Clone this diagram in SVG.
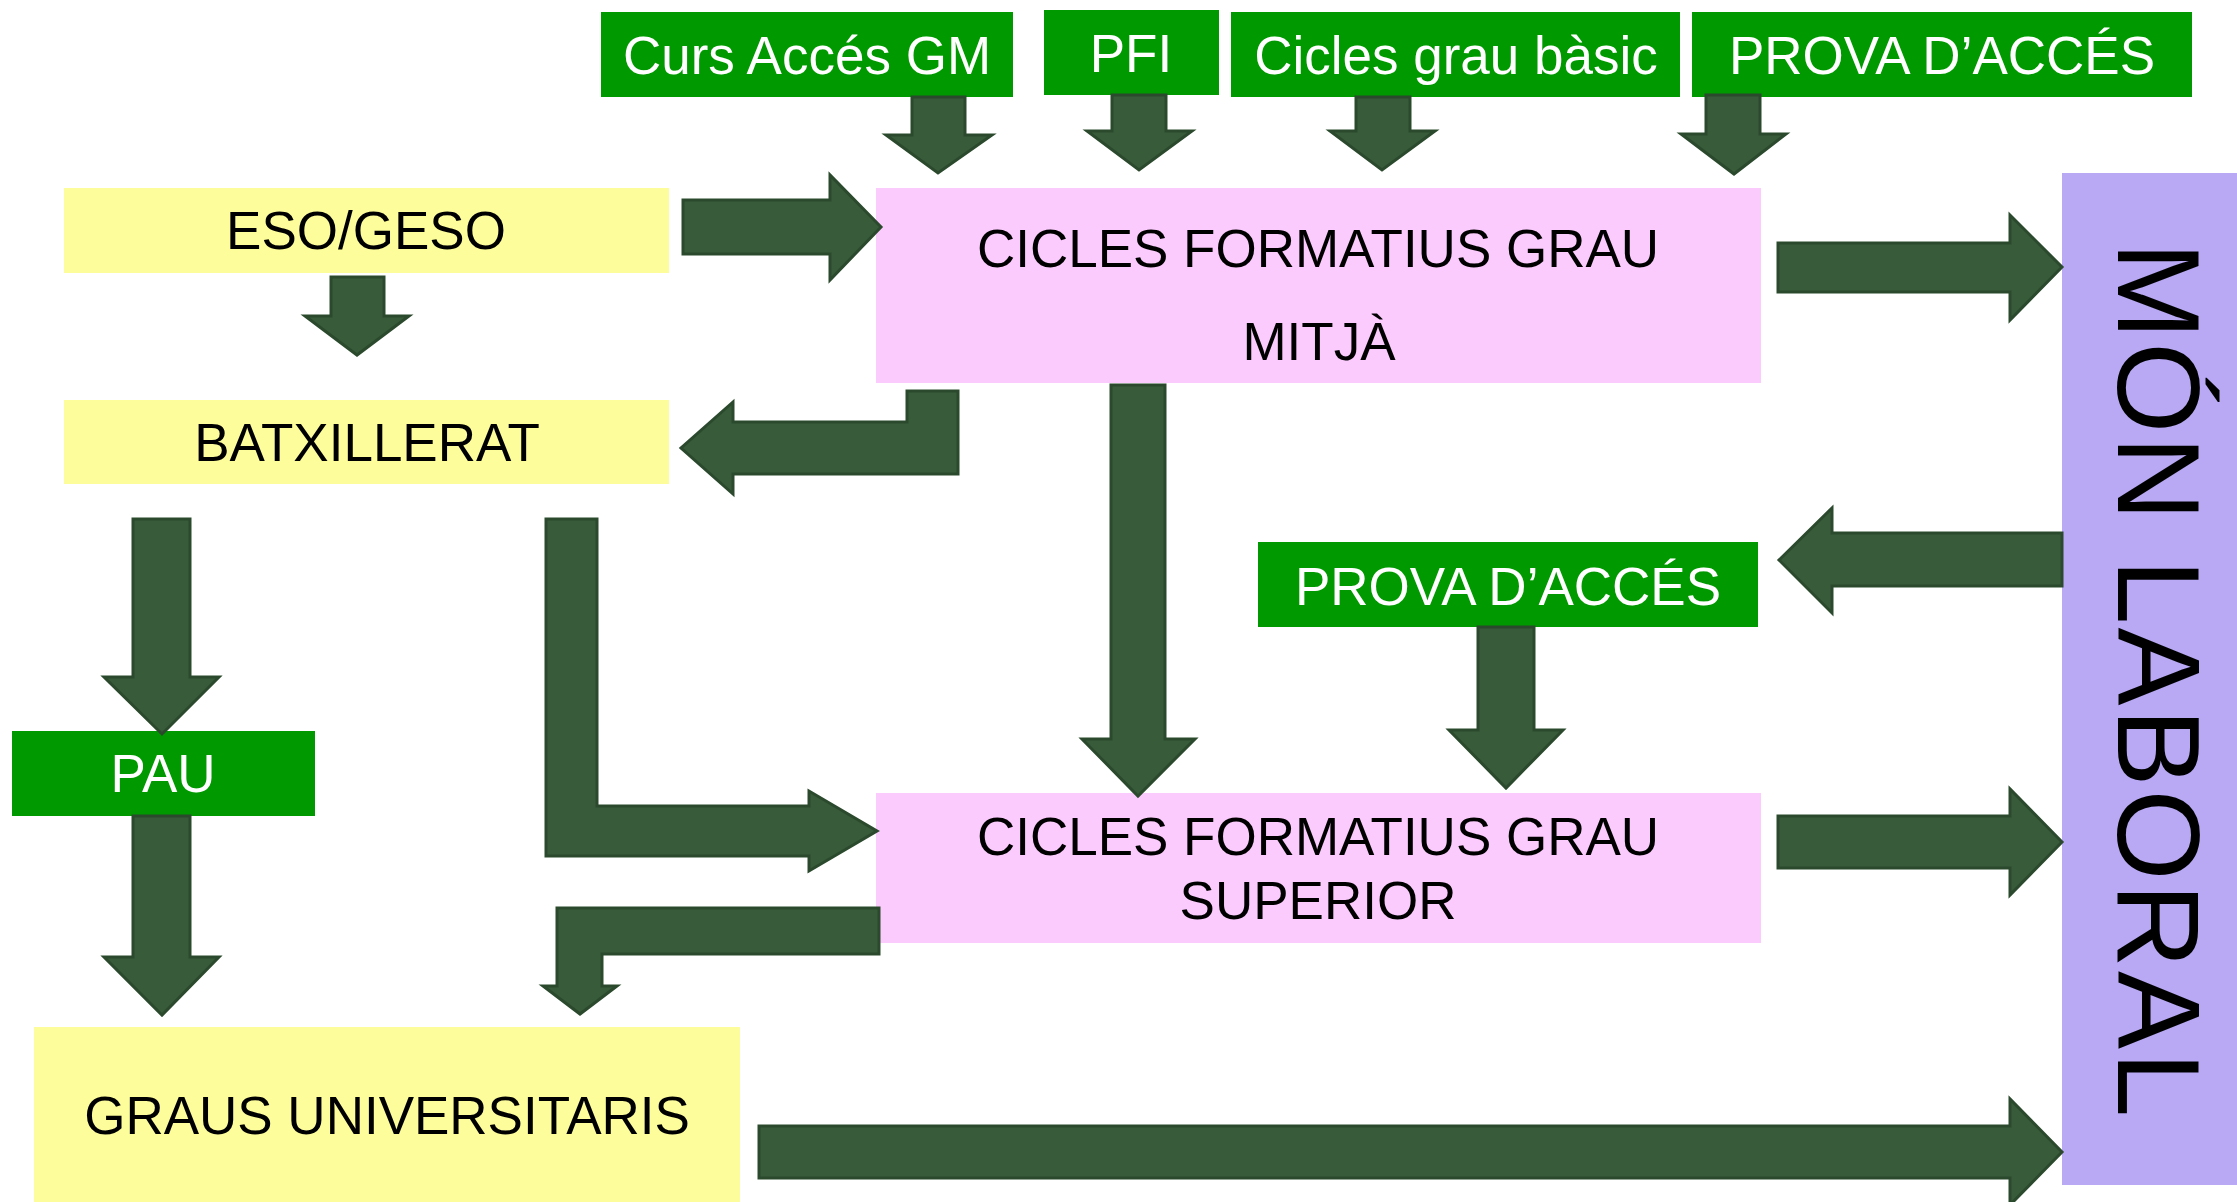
<svg xmlns="http://www.w3.org/2000/svg" width="2237" height="1202" viewBox="0 0 2237 1202">
<style>
.g{fill:#009900}
.y{fill:#FDFD9B}
.p{fill:#FCCBFD}
.v{fill:#B9A9F5}
.t{font-family:"Liberation Sans",Arial,sans-serif;font-size:53px;text-anchor:middle;fill:#000}
.w{fill:#fff}
.a{fill:#385B3A;stroke:#2B4A2D;stroke-width:3;stroke-linejoin:miter}
</style>
<rect width="2237" height="1202" fill="#fff"/>
<g id="curs"><rect class="g" x="601" y="12" width="412" height="85"/><text class="t w" x="807" y="74">Curs Accés GM</text></g>
<g id="pfi"><rect class="g" x="1044" y="10" width="175" height="85"/><text class="t w" x="1131" y="72">PFI</text></g>
<g id="basic"><rect class="g" x="1231" y="12" width="449" height="85"/><text class="t w" x="1456" y="74">Cicles grau bàsic</text></g>
<g id="prova1"><rect class="g" x="1692" y="12" width="500" height="85"/><text class="t w" x="1942" y="74">PROVA D’ACCÉS</text></g>
<g id="eso"><rect class="y" x="64" y="188" width="605" height="85"/><text class="t" x="366" y="249">ESO/GESO</text></g>
<g id="batx"><rect class="y" x="64" y="400" width="605" height="84"/><text class="t" x="367" y="461">BATXILLERAT</text></g>
<g id="cfgm"><rect class="p" x="876" y="188" width="885" height="195"/><text class="t" x="1318" y="267">CICLES FORMATIUS GRAU</text><text class="t" x="1319" y="360">MITJÀ</text></g>
<g id="prova2"><rect class="g" x="1258" y="542" width="500" height="85"/><text class="t w" x="1508" y="605">PROVA D’ACCÉS</text></g>
<g id="pau"><rect class="g" x="12" y="731" width="303" height="85"/><text class="t w" x="163" y="792">PAU</text></g>
<g id="cfgs"><rect class="p" x="876" y="793" width="885" height="150"/><text class="t" x="1318" y="855">CICLES FORMATIUS GRAU</text><text class="t" x="1318" y="919">SUPERIOR</text></g>
<g id="graus"><rect class="y" x="34" y="1027" width="706" height="175"/><text class="t" x="387" y="1134">GRAUS UNIVERSITARIS</text></g>
<g id="mon"><rect class="v" x="2062" y="173" width="175" height="1012"/><text class="t" transform="translate(2118,681) rotate(90)" style="font-size:117px;letter-spacing:3px">MÓN LABORAL</text></g>
<g id="connectors">
<polygon class="a" points="912,97 965,97 965,135 992,135 938,173 886,135 912,135"/>
<polygon class="a" points="1112,95 1166,95 1166,131 1192,131 1139,170 1087,131 1112,131"/>
<polygon class="a" points="1356,97 1410,97 1410,131 1435,131 1382,170 1330,131 1356,131"/>
<polygon class="a" points="1706,95 1760,95 1760,134 1786,134 1734,174 1681,134 1706,134"/>
<polygon class="a" points="683,200 830,200 830,175 881,227 830,280 830,254 683,254"/>
<polygon class="a" points="331,277 384,277 384,316 409,316 357,355 305,316 331,316"/>
<polygon class="a" points="907,391 958,391 958,474 733,474 733,494 681,448 733,402 733,422 907,422"/>
<polygon class="a" points="1778,243 2010,243 2010,215 2062,267 2010,320 2010,292 1778,292"/>
<polygon class="a" points="1111,385 1165,385 1165,739 1195,739 1138,796 1082,739 1111,739"/>
<polygon class="a" points="2062,533 1832,533 1832,508 1779,560 1832,613 1832,586 2062,586"/>
<polygon class="a" points="1478,627 1534,627 1534,730 1563,730 1506,788 1449,730 1478,730"/>
<polygon class="a" points="133,519 190,519 190,677 219,677 162,734 104,677 133,677"/>
<polygon class="a" points="133,816 190,816 190,957 219,957 162,1015 104,957 133,957"/>
<polygon class="a" points="546,519 597,519 597,806 809,806 809,791 877,831 809,871 809,856 546,856"/>
<polygon class="a" points="1778,816 2010,816 2010,789 2062,842 2010,895 2010,868 1778,868"/>
<polygon class="a" points="879,908 879,954 602,954 602,986 617,986 580,1014 543,986 557,986 557,908"/>
<polygon class="a" points="759,1126 2010,1126 2010,1099 2062,1152 2010,1205 2010,1178 759,1178"/>
</g>
</svg>
